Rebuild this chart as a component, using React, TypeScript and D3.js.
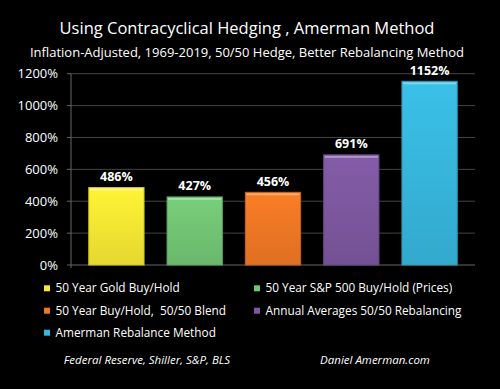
import React from "react";
import * as d3 from "d3";

const categories = [
  "50 Year Gold Buy/Hold",
  "50 Year S&P 500 Buy/Hold (Prices)",
  "50 Year Buy/Hold,  50/50 Blend",
  "Annual Averages 50/50 Rebalancing",
  "Amerman Rebalance Method",
];
const values = [486, 427, 456, 691, 1152];
const colors = ["#F7E733", "#72C474", "#EE7724", "#7D579F", "#37B6DC"];
const yTicks = [0, 200, 400, 600, 800, 1000, 1200];

const W = 500;
const H = 389;
const left = 71;
const right = 475;
const top = 73.7;
const bottom = 265;

export default function App() {
  const x = d3
    .scaleBand<number>()
    .domain(d3.range(values.length))
    .range([left, right])
    .paddingInner(0.294)
    .paddingOuter(0.227);
  const y = d3.scaleLinear().domain([0, 1200]).range([bottom, top]);
  const font = "'Open Sans', sans-serif";

  const legendPos = [
    [44, 288.3],
    [254, 288.3],
    [44, 310.7],
    [254, 310.7],
    [44, 332.7],
  ];

  return (
    <div style={{ position: "fixed", left: 0, top: 0 }}>
      <svg width={W} height={H} style={{ display: "block", background: "#000" }}>
        <defs>
          {colors.map((c, i) => (
            <linearGradient key={i} id={`g${i}`} x1="0" y1="0" x2="0" y2="1">
              <stop offset="0" stopColor={d3.color(c)!.brighter(0.15).toString()} />
              <stop offset="1" stopColor={d3.color(c)!.darker(0.2).toString()} />
            </linearGradient>
          ))}
        </defs>
        <rect x={0} y={0} width={W} height={H} fill="#000" />
        <text x={247} y={34} textAnchor="middle" fill="#fff" fontFamily={font} fontSize={16.5}>
          Using Contracyclical Hedging , Amerman Method
        </text>
        <text x={247} y={56.5} textAnchor="middle" fill="#fff" fontFamily={font} fontSize={13}>
          Inflation-Adjusted, 1969-2019, 50/50 Hedge, Better Rebalancing Method
        </text>
        {yTicks.map((t) => (
          <g key={t}>
            {t > 0 && (
              <line x1={left} x2={right} y1={y(t)} y2={y(t)} stroke="#444" strokeWidth={1} />
            )}
            <line x1={67} x2={left} y1={y(t)} y2={y(t)} stroke="#666" strokeWidth={1} />
            <text
              x={58}
              y={y(t)}
              dy="0.35em"
              textAnchor="end"
              fill="#fff"
              fontFamily={font}
              fontSize={13}
            >
              {t}%
            </text>
          </g>
        ))}
        <line x1={left} x2={left} y1={top} y2={bottom + 3} stroke="#666" />
        <line x1={left} x2={right} y1={bottom} y2={bottom} stroke="#666" />
        {values.map((v, i) => (
          <g key={i}>
            <rect
              x={x(i)!}
              y={y(v)}
              width={x.bandwidth()}
              height={bottom - y(v)}
              fill={`url(#g${i})`}
              stroke={d3.color(colors[i])!.darker(0.5).toString()}
              strokeWidth={1}
            />
            <rect
              x={x(i)! + 1}
              y={y(v) + 1}
              width={x.bandwidth() - 2}
              height={2}
              fill="#fff"
              opacity={0.35}
            />
            <text
              x={x(i)! + x.bandwidth() / 2}
              y={y(v) - 11}
              dy="0.35em"
              textAnchor="middle"
              fill="#fff"
              fontFamily={font}
              fontWeight="bold"
              fontSize={12.5}
            >
              {v}%
            </text>
          </g>
        ))}
        {categories.map((c, i) => (
          <g key={c}>
            <rect
              x={legendPos[i][0]}
              y={legendPos[i][1] - 3}
              width={6}
              height={6}
              fill={colors[i]}
            />
            <text
              x={legendPos[i][0] + 11.5}
              y={legendPos[i][1]}
              dy="0.35em"
              fill="#fff"
              fontFamily={font}
              fontSize={11.8}
              style={{ whiteSpace: "pre" }}
            >
              {c}
            </text>
          </g>
        ))}
        <text x={147} y={360} dy="0.35em" textAnchor="middle" fill="#fff" fontFamily={font} fontStyle="italic" fontSize={11.5}>
          Federal Reserve, Shiller, S&amp;P, BLS
        </text>
        <text x={375} y={360} dy="0.35em" textAnchor="middle" fill="#fff" fontFamily={font} fontStyle="italic" fontSize={11.5}>
          Daniel Amerman.com
        </text>
      </svg>
    </div>
  );
}
